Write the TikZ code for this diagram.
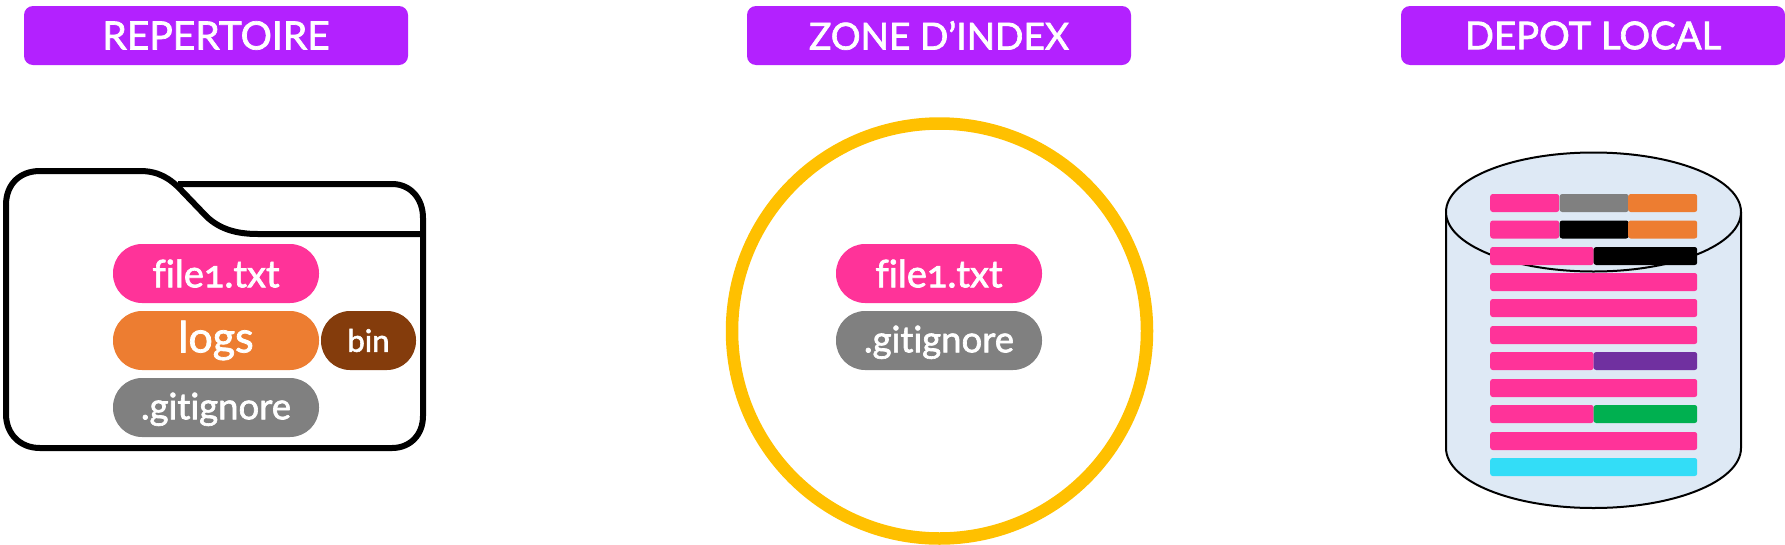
\documentclass[tikz,border=0pt]{standalone}
\usepackage{fontspec}
\setmainfont[Numbers=OldStyle,FakeBold=1.8,Ligatures=NoCommon]{Lato}
\definecolor{hdr}{HTML}{B321FF}
\definecolor{pink}{HTML}{FF3399}
\definecolor{orng}{HTML}{ED7D31}
\definecolor{gry}{HTML}{808080}
\definecolor{brn}{HTML}{843C0C}
\definecolor{gold}{HTML}{FFC000}
\definecolor{pale}{HTML}{DEE9F5}
\definecolor{purp}{HTML}{7030A0}
\definecolor{grn}{HTML}{00B050}
\definecolor{cyn}{HTML}{33DDF7}
\tikzset{
  header/.style={fill=hdr,rounded corners=9pt,minimum width=384pt,minimum height=59pt,inner sep=0pt,text=white,font=\fontsize{39}{39}\selectfont},
  pill/.style={rounded corners=29pt,minimum width=206pt,minimum height=59pt,inner sep=0pt,text=white,font=\fontsize{38}{38}\selectfont},
  smallpill/.style={rounded corners=29pt,minimum width=95pt,minimum height=59pt,inner sep=0pt,text=white,font=\fontsize{31}{31}\selectfont},
  bar/.style={rounded corners=2.5pt,minimum height=18pt,inner sep=0pt,anchor=west},
  bar3/.style={bar,minimum width=69pt},
  bar2/.style={bar,minimum width=103.5pt},
  bar1/.style={bar,minimum width=207pt,fill=pink},
  gitpill/.style={pill,fill=gry,font=\fontsize{36.5}{36.5}\selectfont,text depth=3pt},
}
\begin{document}
\begin{tikzpicture}[x=1pt,y=-1pt]
\useasboundingbox (0,0) rectangle (1785,544);
% headers
\node[header] (h1) at (216,35.5) {REPERTOIRE};
\node[header,font=\fontsize{37.2}{37.2}\selectfont] (h2) at (939,35.5) {ZONE D’INDEX};
\node[header,font=\fontsize{38.3}{38.3}\selectfont] (h3) at (1593,35.5) {DEPOT LOCAL};
% folder
\draw[line width=6pt,line join=round] (6,205) .. controls (6,184) and (20,171) .. (40,171)
  -- (140,171) .. controls (158,171) and (170,178) .. (182,191)
  -- (207,217) .. controls (220,229) and (236,234) .. (258,234) -- (423,234);
\draw[line width=6pt,line join=round] (178,184) -- (392,184) .. controls (410,184) and (423,198) .. (423,218)
  -- (423,416) .. controls (423,435) and (410,448) .. (392,448)
  -- (40,448) .. controls (20,448) and (6,434) .. (6,414) -- (6,205);
\node[pill,fill=pink] (f1) at (216,273.5) {file1.txt};
\node[pill,fill=orng,font=\fontsize{43}{43}\selectfont] (logs) at (216,340.5) {logs};
\node[smallpill,fill=brn] (bin) at (368.5,340.5) {bin};
\node[gitpill] (gi1) at (216,407.5) {.gitignore};
% index circle
\draw[gold,line width=12.5pt] (939.5,331) circle (207.5pt);
\node[pill,fill=pink] (f2) at (939,273.5) {file1.txt};
\node[gitpill] (gi2) at (939,340.5) {.gitignore};
% cylinder
\draw[fill=pale,line width=2pt] (1446,212) -- (1446,448) arc[start angle=180,end angle=360,x radius=147.5pt,y radius=60pt] -- (1741,212);
\draw[fill=pale,line width=2pt] (1593.5,212) ellipse[x radius=147.5pt,y radius=59.5pt];
% bars
\node[bar3,fill=pink] (a1) at (1490,203) {};
\node[bar3,fill=gry] (a2) at (1559.5,203) {};
\node[bar3,fill=orng] (a3) at (1628,203) {};
\node[bar3,fill=pink] (b1) at (1490,229.5) {};
\node[bar3,fill=black] (b2) at (1559.5,229.5) {};
\node[bar3,fill=orng] (b3) at (1628,229.5) {};
\node[bar2,fill=pink] (c1) at (1490,256) {};
\node[bar2,fill=black] (c2) at (1593.5,256) {};
\node[bar1] (d) at (1490,282) {};
\node[bar1] (e) at (1490,308) {};
\node[bar1] (f) at (1490,335) {};
\node[bar2,fill=pink] (g1) at (1490,361) {};
\node[bar2,fill=purp] (g2) at (1593.5,361) {};
\node[bar1] (h) at (1490,388) {};
\node[bar2,fill=pink] (i1) at (1490,414) {};
\node[bar2,fill=grn] (i2) at (1593.5,414) {};
\node[bar1] (j) at (1490,441) {};
\node[bar1,fill=cyn] (k) at (1490,467) {};
\end{tikzpicture}
\end{document}
